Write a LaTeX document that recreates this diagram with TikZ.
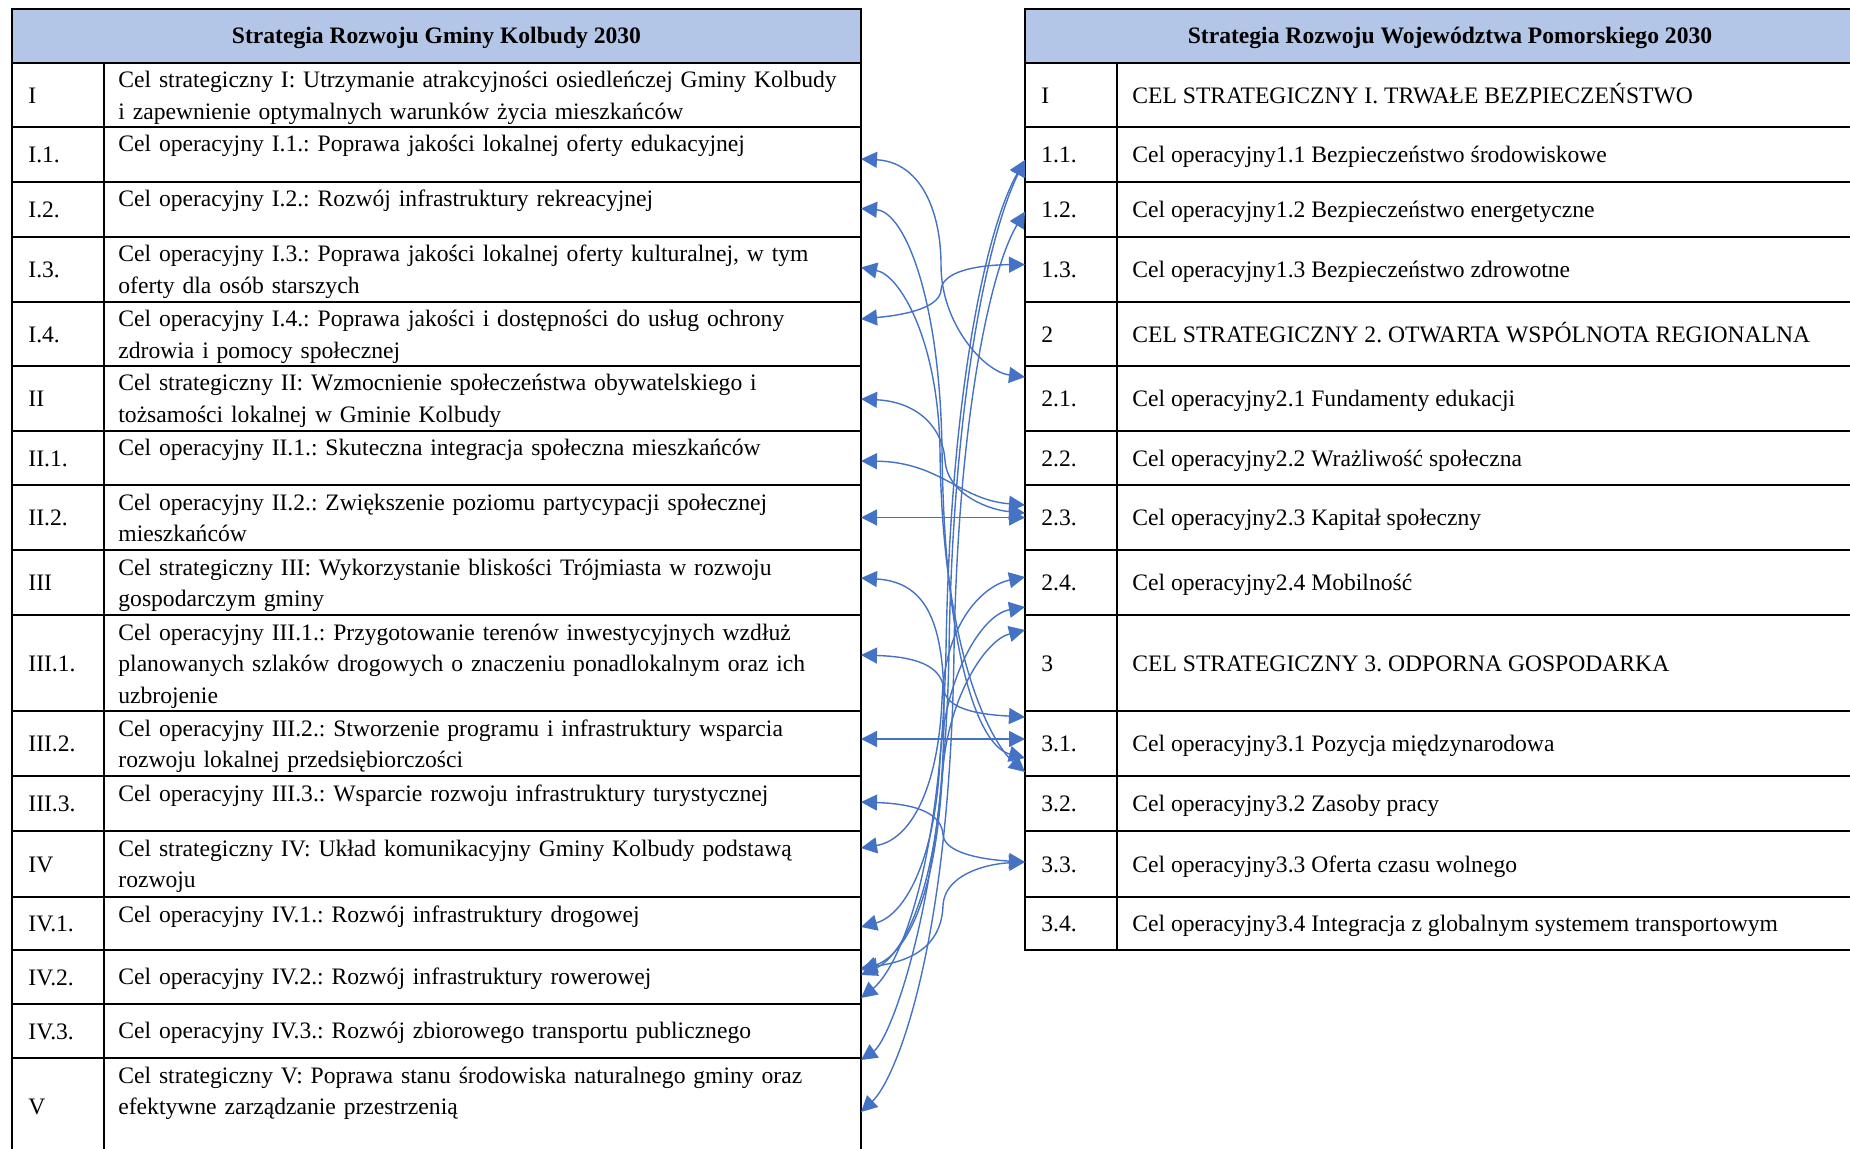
\documentclass[tikz,border=0pt]{standalone}
\usepackage{fontspec}
\setmainfont{Liberation Serif}
\usetikzlibrary{arrows.meta,calc,fit}

\definecolor{wpblue}{HTML}{4472C4}
\definecolor{headfill}{HTML}{B4C6E7}

\tikzset{
  cell/.style={draw, line width=0.9pt, inner sep=0pt, outer sep=0pt},
  headcell/.style={cell, fill=headfill},
  headtext/.style={font=\fontsize{11.8}{15.8}\selectfont\bfseries},
  numtext/.style={anchor=west, inner sep=0pt, text height=1.5ex, text depth=.25ex},
  gktext/.style={anchor=base west, inner sep=0pt, text width=380pt, align=left},
  wptext/.style={anchor=west, inner sep=0pt, text height=1.5ex, text depth=.25ex},
  link/.style={draw=wpblue, line width=0.7pt,
    {Triangle[length=8pt,width=8pt]}-{Triangle[length=8pt,width=8pt]}}
}

% one row of the Kolbudy table: [baseline offset]{name}{top}{bottom}{number}{text}
\newcommand{\gkrow}[6][25]{%
  \node[cell, fit={(12,#3) (104,#4)}] (#2n) {};
  \node[cell, fit={(104,#3) (861,#4)}] (#2) {};
  \node[numtext] at ($(#2n.west)+(16,2.5)$) {#5};
  \node[gktext] at ($(#2.north west)+(14,#1)$) {#6};
}
% one row of the Pomorskie table: {name}{top}{bottom}{number}{text}
\newcommand{\wprow}[5]{%
  \node[cell, fit={(1025,#2) (1117,#3)}] (#1) {};
  \node[cell, fit={(1117,#2) (1875,#3)}] (#1t) {};
  \node[numtext] at ($(#1.west)+(16,2.5)$) {#4};
  \node[wptext] at ($(#1t.west)+(15,2.5)$) {#5};
}

\begin{document}
\frenchspacing
\begin{tikzpicture}[x=0.5pt, y=-0.5pt, font=\fontsize{11.8}{15.8}\selectfont]
  \useasboundingbox (0,0) rectangle (1850,1149);
  \clip (0,0) rectangle (1850,1149);

  % headers
  \node[headcell, fit={(12,9) (861,63)}] (gkhead) {};
  \node[headtext] at ($(gkhead.center)+(0,1.5)$) {Strategia Rozwoju Gminy Kolbudy 2030};
  \node[headcell, fit={(1025,9) (1875,63)}] (wphead) {};
  \node[headtext] at ($(wphead.center)+(0,1.5)$) {Strategia Rozwoju Województwa Pomorskiego 2030};

  % left table
  \gkrow{gk1}{63}{127}{I}{Cel strategiczny I: Utrzymanie atrakcyjności osiedleńczej Gminy Kolbudy\\i zapewnienie optymalnych warunków życia mieszkańców}
  \gkrow{gk11}{127}{182}{I.1.}{Cel operacyjny I.1.: Poprawa jakości lokalnej oferty edukacyjnej}
  \gkrow{gk12}{182}{237}{I.2.}{Cel operacyjny I.2.: Rozwój infrastruktury rekreacyjnej}
  \gkrow{gk13}{237}{302}{I.3.}{Cel operacyjny I.3.: Poprawa jakości lokalnej oferty kulturalnej, w tym\\oferty dla osób starszych}
  \gkrow{gk14}{302}{366}{I.4.}{Cel operacyjny I.4.: Poprawa jakości i dostępności do usług ochrony\\zdrowia i pomocy społecznej}
  \gkrow{gk2}{366}{431}{II}{Cel strategiczny II: Wzmocnienie społeczeństwa obywatelskiego i\\tożsamości lokalnej w Gminie Kolbudy}
  \gkrow{gk21}{431}{485}{II.1.}{Cel operacyjny II.1.: Skuteczna integracja społeczna mieszkańców}
  \gkrow{gk22}{485}{550}{II.2.}{Cel operacyjny II.2.: Zwiększenie poziomu partycypacji społecznej\\mieszkańców}
  \gkrow{gk3}{550}{615}{III}{Cel strategiczny III: Wykorzystanie bliskości Trójmiasta w rozwoju\\gospodarczym gminy}
  \gkrow{gk31}{615}{711}{III.1.}{Cel operacyjny III.1.: Przygotowanie terenów inwestycyjnych wzdłuż\\planowanych szlaków drogowych o znaczeniu ponadlokalnym oraz ich\\uzbrojenie}
  \gkrow{gk32}{711}{776}{III.2.}{Cel operacyjny III.2.: Stworzenie programu i infrastruktury wsparcia\\rozwoju lokalnej przedsiębiorczości}
  \gkrow{gk33}{776}{831}{III.3.}{Cel operacyjny III.3.: Wsparcie rozwoju infrastruktury turystycznej}
  \gkrow{gk4}{831}{897}{IV}{Cel strategiczny IV: Układ komunikacyjny Gminy Kolbudy podstawą\\rozwoju}
  \gkrow{gk41}{897}{950}{IV.1.}{Cel operacyjny IV.1.: Rozwój infrastruktury drogowej}
  \gkrow[34.5]{gk42}{950}{1004}{IV.2.}{Cel operacyjny IV.2.: Rozwój infrastruktury rowerowej}
  \gkrow[34.5]{gk43}{1004}{1058}{IV.3.}{Cel operacyjny IV.3.: Rozwój zbiorowego transportu publicznego}
  \gkrow{gk5}{1058}{1154}{V}{Cel strategiczny V: Poprawa stanu środowiska naturalnego gminy oraz\\efektywne zarządzanie przestrzenią}

  % right table
  \wprow{wp1}{63}{127}{I}{CEL STRATEGICZNY I. TRWAŁE BEZPIECZEŃSTWO}
  \wprow{wp11}{127}{182}{1.1.}{Cel operacyjny1.1 Bezpieczeństwo środowiskowe}
  \wprow{wp12}{182}{237}{1.2.}{Cel operacyjny1.2 Bezpieczeństwo energetyczne}
  \wprow{wp13}{237}{302}{1.3.}{Cel operacyjny1.3 Bezpieczeństwo zdrowotne}
  \wprow{wp2}{302}{366}{2}{CEL STRATEGICZNY 2. OTWARTA WSPÓLNOTA REGIONALNA}
  \wprow{wp21}{366}{431}{2.1.}{Cel operacyjny2.1 Fundamenty edukacji}
  \wprow{wp22}{431}{485}{2.2.}{Cel operacyjny2.2 Wrażliwość społeczna}
  \wprow{wp23}{485}{550}{2.3.}{Cel operacyjny2.3 Kapitał społeczny}
  \wprow{wp24}{550}{615}{2.4.}{Cel operacyjny2.4 Mobilność}
  \wprow{wp3}{615}{711}{3}{CEL STRATEGICZNY 3. ODPORNA GOSPODARKA}
  \wprow{wp31}{711}{776}{3.1.}{Cel operacyjny3.1 Pozycja międzynarodowa}
  \wprow{wp32}{776}{831}{3.2.}{Cel operacyjny3.2 Zasoby pracy}
  \wprow{wp33}{831}{897}{3.3.}{Cel operacyjny3.3 Oferta czasu wolnego}
  \wprow{wp34}{897}{950}{3.4.}{Cel operacyjny3.4 Integracja z globalnym systemem transportowym}

  % links between the goals
  \draw[link] ($(gk11.east)+(0,4.5)$) .. controls (920,162) and (941,210) .. (941,265)
    .. controls (941,325) and (985,372) .. ($(wp21.west)+(0,-21.5)$);
  \draw[link] ($(gk14.east)+(0,-15)$) .. controls (915,314) and (940,305) .. (941,290)
    .. controls (942,272) and (975,265) .. ($(wp13.west)+(0,-5)$);
  \draw[link] ($(gk12.east)+(0,-1)$) .. controls (905,212) and (940,300) .. (942,450)
    .. controls (944,640) and (975,745) .. ($(wp31.west)+(0,14.5)$);
  \draw[link] ($(gk13.east)+(0,-2)$) .. controls (900,275) and (938,340) .. (940,450)
    .. controls (942,650) and (990,742) .. ($(wp31.west)+(0,28.5)$);
  \draw[link] ($(gk2.east)+(0,0.5)$) .. controls (920,402) and (943,430) .. (945,460)
    .. controls (947,495) and (990,510) .. ($(wp23.west)+(0,-4.5)$);
  \draw[link] ($(gk21.east)+(0,3)$) .. controls (940,462) and (960,500) .. ($(wp23.west)+(0,-12.5)$);
  \draw[link] (gk22.east) -- (wp23.west);
  \draw[link] ($(gk3.east)+(0,-4.5)$) .. controls (925,582) and (943,620) .. (944,700)
    .. controls (945,880) and (905,955) .. ($(gk42.east)+(0,-2)$);
  \draw[link] ($(gk31.east)+(0,-8)$) .. controls (925,657) and (942,670) .. (944,690)
    .. controls (947,712) and (990,715) .. ($(wp31.west)+(0,-26.5)$);
  \draw[link] ($(gk32.east)+(0,-4.5)$) -- ($(wp31.west)+(0,-4.5)$);
  \draw[link] ($(gk33.east)+(0,-1.5)$) .. controls (920,804) and (942,815) .. (943,835)
    .. controls (945,855) and (990,860) .. ($(wp33.west)+(0,-2)$);
  \draw[link] ($(gk42.east)+(0,-9)$) .. controls (920,960) and (942,940) .. (943,905)
    .. controls (945,875) and (985,864) .. ($(wp33.west)+(0,-2)$);
  \draw[link] ($(gk4.east)+(0,-16)$) .. controls (910,840) and (938,790) .. (942,700)
    .. controls (945,620) and (985,585) .. ($(wp24.west)+(0,-5.5)$);
  \draw[link] ($(gk41.east)+(0,3.5)$) .. controls (905,915) and (935,860) .. (940,760)
    .. controls (944,680) and (980,615) .. ($(wp24.west)+(0,24.5)$);
  \draw[link] ($(gk42.east)+(0,-7)$) .. controls (905,955) and (935,900) .. (942,780)
    .. controls (946,700) and (985,640) .. ($(wp3.west)+(0,-33)$);
  \draw[link] ($(gk42.east)+(0,21)$) .. controls (890,975) and (940,900) .. (946,650)
    .. controls (950,400) and (985,230) .. ($(wp11.west)+(0,5.5)$);
  \draw[link] ($(gk5.east)+(0,-46)$) .. controls (890,1040) and (945,900) .. (949,650)
    .. controls (953,400) and (988,235) .. ($(wp11.west)+(0,5.5)$);
  \draw[link] ($(gk5.east)+(0,6)$) .. controls (895,1080) and (950,950) .. (954,650)
    .. controls (958,420) and (990,270) .. ($(wp12.west)+(0,2)$);
\end{tikzpicture}
\end{document}
